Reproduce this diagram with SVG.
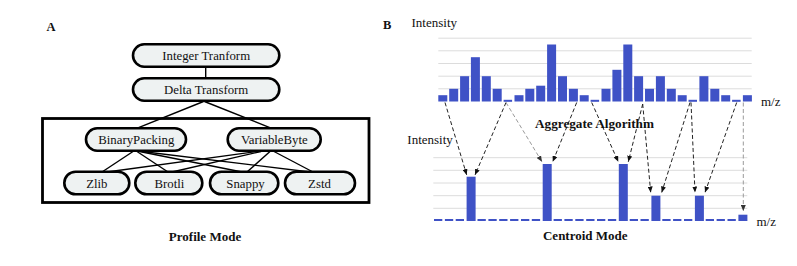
<svg xmlns="http://www.w3.org/2000/svg" width="797" height="266" viewBox="0 0 797 266">
<style>
text{font-family:"Liberation Serif","Times New Roman",serif;fill:#111}
.lbl{font-size:12.8px;text-anchor:middle}
.b{font-weight:bold}
.pill{fill:#eef2f2;stroke:#000;stroke-width:2.6}
.edge{stroke:#000;stroke-width:1.4;fill:none}
.grid{stroke:#dcdcdc;stroke-width:1}
.bar{fill:#3f52c6}
.dk{stroke:#222;stroke-width:1;stroke-dasharray:4 2.5;fill:none;marker-end:url(#ad)}
.gy{stroke:#9a9a9a;stroke-width:1;stroke-dasharray:4 2.5;fill:none;marker-end:url(#ag)}
</style>
<defs>
<marker id="ad" markerWidth="6" markerHeight="5" refX="6" refY="2.5" orient="auto" markerUnits="userSpaceOnUse"><path d="M0,0 L6,2.5 L0,5 z" fill="#111"/></marker>
<marker id="ag" markerWidth="6" markerHeight="5" refX="6" refY="2.5" orient="auto" markerUnits="userSpaceOnUse"><path d="M0,0 L6,2.5 L0,5 z" fill="#333"/></marker>
</defs>
<rect width="797" height="266" fill="#fff"/>

<!-- Panel A -->
<text x="46.5" y="30.5" class="b" font-size="12.5">A</text>
<rect id="group-box" x="42.5" y="118.5" width="326.5" height="84" fill="none" stroke="#000" stroke-width="2.8"/>

<g id="connectors-a">
<line class="edge" x1="205.7" y1="66.7" x2="205.7" y2="78.3"/>
<line class="edge" x1="203.5" y1="101.5" x2="136.7" y2="128.3"/>
<line class="edge" x1="204.5" y1="101.5" x2="271.7" y2="128.3"/>
<line class="edge" x1="133" y1="151.5" x2="102" y2="172"/>
<line class="edge" x1="137" y1="151.5" x2="168" y2="172"/>
<line class="edge" x1="139.5" y1="151.5" x2="242" y2="172"/>
<line class="edge" x1="142" y1="151.5" x2="310" y2="172"/>
<line class="edge" x1="257" y1="151.5" x2="107" y2="172"/>
<line class="edge" x1="261" y1="151.5" x2="172" y2="172"/>
<line class="edge" x1="270" y1="151.5" x2="247" y2="172"/>
<line class="edge" x1="274" y1="151.5" x2="313" y2="172"/>
</g>

<g id="node-integer-tranform"><rect class="pill" x="133" y="44.3" width="146.3" height="22.4" rx="11.2"/><text class="lbl" x="206.2" y="59.8">Integer Tranform</text></g>
<g id="node-delta-transform"><rect class="pill" x="133" y="78.3" width="146.3" height="22.4" rx="11.2"/><text class="lbl" x="206.2" y="94">Delta Transform</text></g>
<g id="node-binarypacking"><rect class="pill" x="86" y="128.3" width="100" height="22.4" rx="11.2"/><text class="lbl" x="136.3" y="144">BinaryPacking</text></g>
<g id="node-variablebyte"><rect class="pill" x="227.7" y="128.3" width="93" height="22.4" rx="11.2"/><text class="lbl" x="274.3" y="144">VariableByte</text></g>
<g id="node-zlib"><rect class="pill" x="64.3" y="171.7" width="65" height="22.6" rx="11.3"/><text class="lbl" x="96.8" y="187.6">Zlib</text></g>
<g id="node-brotli"><rect class="pill" x="135.3" y="171.7" width="67" height="22.6" rx="11.3"/><text class="lbl" x="169.5" y="187.6">Brotli</text></g>
<g id="node-snappy"><rect class="pill" x="210" y="171.7" width="68.3" height="22.6" rx="11.3"/><text class="lbl" x="245.5" y="187.6">Snappy</text></g>
<g id="node-zstd"><rect class="pill" x="285" y="171.7" width="70" height="22.6" rx="11.3"/><text class="lbl" x="319.5" y="187.6">Zstd</text></g>

<text x="205" y="240.5" class="b" font-size="13" text-anchor="middle">Profile Mode</text>

<!-- Panel B -->
<text x="383" y="29.3" class="b" font-size="12.5">B</text>
<text x="411.5" y="26.5" font-size="13">Intensity</text>
<text x="761" y="106" font-size="13">m/z</text>

<g id="top-grid">
<line class="grid" x1="438.3" y1="88.8" x2="751.7" y2="88.8"/>
<line class="grid" x1="438.3" y1="76.2" x2="751.7" y2="76.2"/>
<line class="grid" x1="438.3" y1="63.5" x2="751.7" y2="63.5"/>
<line class="grid" x1="438.3" y1="50.8" x2="751.7" y2="50.8"/>
<line class="grid" x1="438.3" y1="38.2" x2="751.7" y2="38.2"/>
</g>
<g id="profile-bars" class="bar">
<rect x="438.3" y="95.2" width="9" height="6.3"/>
<rect x="449.2" y="88.8" width="9" height="12.7"/>
<rect x="460.1" y="76.2" width="9" height="25.3"/>
<rect x="470.9" y="57.2" width="9" height="44.3"/>
<rect x="481.8" y="76.2" width="9" height="25.3"/>
<rect x="492.7" y="88.8" width="9" height="12.7"/>
<rect x="503.6" y="99.8" width="8.5" height="2"/>
<rect x="514.5" y="95.2" width="9" height="6.3"/>
<rect x="525.3" y="88.8" width="9" height="12.7"/>
<rect x="536.2" y="85.7" width="9" height="15.8"/>
<rect x="547.1" y="44.5" width="9" height="57"/>
<rect x="558" y="76.2" width="9" height="25.3"/>
<rect x="568.9" y="88.8" width="9" height="12.7"/>
<rect x="579.7" y="95.2" width="9" height="6.3"/>
<rect x="590.6" y="99.8" width="8.5" height="2"/>
<rect x="601.5" y="88.8" width="9" height="12.7"/>
<rect x="612.4" y="69.8" width="9" height="31.7"/>
<rect x="623.3" y="44.5" width="9" height="57"/>
<rect x="634.1" y="76.2" width="9" height="25.3"/>
<rect x="645" y="88.8" width="9" height="12.7"/>
<rect x="655.9" y="76.2" width="9" height="25.3"/>
<rect x="666.8" y="88.8" width="9" height="12.7"/>
<rect x="677.7" y="95.2" width="9" height="6.3"/>
<rect x="688.5" y="99.8" width="8.5" height="2"/>
<rect x="699.4" y="76.2" width="9" height="25.3"/>
<rect x="710.3" y="88.8" width="9" height="12.7"/>
<rect x="721.2" y="95.2" width="9" height="6.3"/>
<rect x="732.1" y="99.8" width="8.5" height="2"/>
<rect x="742.9" y="95.2" width="9" height="6.3"/>
</g>

<text x="407.3" y="144" font-size="13">Intensity</text>
<text x="756.5" y="226" font-size="13">m/z</text>

<g id="bottom-grid">
<line class="grid" x1="433.3" y1="208.3" x2="747.3" y2="208.3"/>
<line class="grid" x1="433.3" y1="195.7" x2="747.3" y2="195.7"/>
<line class="grid" x1="433.3" y1="183" x2="747.3" y2="183"/>
<line class="grid" x1="433.3" y1="170.3" x2="747.3" y2="170.3"/>
<line class="grid" x1="433.3" y1="157.7" x2="747.3" y2="157.7"/>
</g>
<g id="centroid-bars" class="bar">
<rect x="434" y="219" width="8.3" height="2"/>
<rect x="444.9" y="219" width="8.3" height="2"/>
<rect x="455.7" y="219" width="8.3" height="2"/>
<rect x="466.6" y="176.7" width="9" height="44.3"/>
<rect x="477.5" y="219" width="8.3" height="2"/>
<rect x="488.4" y="219" width="8.3" height="2"/>
<rect x="499.2" y="219" width="8.3" height="2"/>
<rect x="510.1" y="219" width="8.3" height="2"/>
<rect x="521" y="219" width="8.3" height="2"/>
<rect x="531.8" y="219" width="8.3" height="2"/>
<rect x="542.7" y="164" width="9" height="57"/>
<rect x="553.6" y="219" width="8.3" height="2"/>
<rect x="564.4" y="219" width="8.3" height="2"/>
<rect x="575.3" y="219" width="8.3" height="2"/>
<rect x="586.2" y="219" width="8.3" height="2"/>
<rect x="597" y="219" width="8.3" height="2"/>
<rect x="607.9" y="219" width="8.3" height="2"/>
<rect x="618.8" y="164" width="9" height="57"/>
<rect x="629.7" y="219" width="8.3" height="2"/>
<rect x="640.5" y="219" width="8.3" height="2"/>
<rect x="651.4" y="195.7" width="9" height="25.3"/>
<rect x="662.3" y="219" width="8.3" height="2"/>
<rect x="673.1" y="219" width="8.3" height="2"/>
<rect x="684" y="219" width="8.3" height="2"/>
<rect x="694.9" y="195.7" width="9" height="25.3"/>
<rect x="705.7" y="219" width="8.3" height="2"/>
<rect x="716.6" y="219" width="8.3" height="2"/>
<rect x="727.5" y="219" width="8.3" height="2"/>
<rect x="738.4" y="214.7" width="9" height="6.3"/>
</g>

<g id="connectors-b">
<line class="dk" x1="445" y1="102.5" x2="466.7" y2="175"/>
<line class="dk" x1="506" y1="102.5" x2="475" y2="175"/>
<line class="gy" x1="506" y1="102.5" x2="542" y2="161.8"/>
<line class="dk" x1="576.7" y1="102.5" x2="552.7" y2="161.8"/>
<line class="dk" x1="591.7" y1="102.5" x2="618.3" y2="161.8"/>
<line class="dk" x1="642.7" y1="104" x2="628.3" y2="161.8"/>
<line class="dk" x1="642.7" y1="104" x2="650.7" y2="192.5"/>
<line class="dk" x1="690" y1="102.5" x2="661.7" y2="192.5"/>
<line class="dk" x1="691" y1="102.5" x2="695" y2="192.5"/>
<line class="dk" x1="736.7" y1="102.5" x2="705" y2="192.5"/>
<line class="gy" x1="743.3" y1="102.5" x2="743.3" y2="211"/>
</g>

<text x="594.5" y="128.3" class="b" font-size="13.2" text-anchor="middle">Aggregate Algorithm</text>
<text x="585.3" y="240.3" class="b" font-size="13" text-anchor="middle">Centroid Mode</text>
</svg>
